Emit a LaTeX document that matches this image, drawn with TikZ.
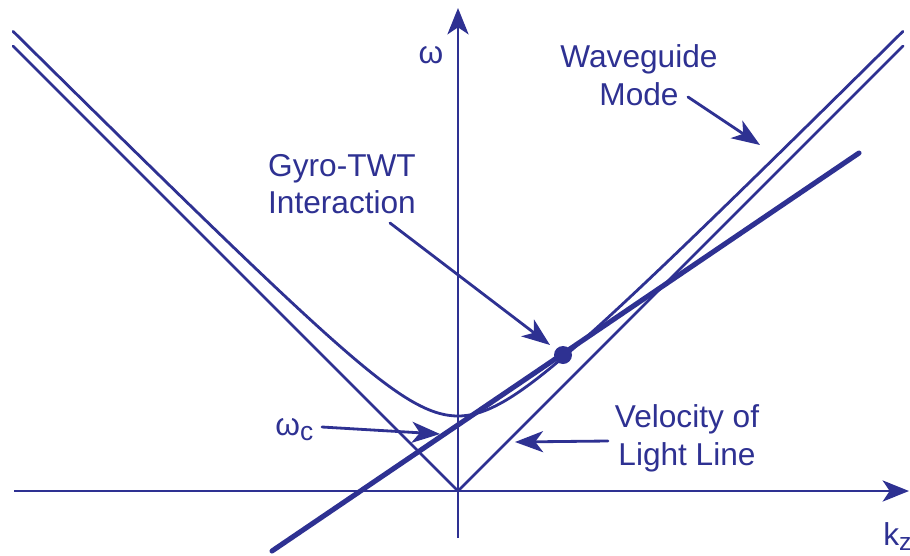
\documentclass[tikz,border=0pt]{standalone}
\usepackage{fontspec}
\setmainfont{Liberation Sans}
\usetikzlibrary{arrows.meta}
\definecolor{dispBlue}{HTML}{2E3192}

\begin{document}
\begin{tikzpicture}[x=0.02cm,y=-0.02cm,font=\fontsize{18}{21.5}\selectfont,
    curve/.style={dispBlue,line width=1.6pt,line cap=round},
    beam/.style={dispBlue,line width=2.9pt,line cap=round},
    axis/.style={dispBlue,line width=1.6pt,-{Stealth[length=15pt,width=12pt,inset=4pt]}},
    pointer/.style={dispBlue,line width=1.6pt,line cap=round,-{Stealth[length=16pt,width=12pt,inset=4.5pt]}},
    lbl/.style={text=dispBlue,align=center,inner sep=0pt}]
  \useasboundingbox (0,0) rectangle (910,555);
  \coordinate (O) at (458,491);
  \coordinate (xs) at (14,491);
  \coordinate (xe) at (909,491);
  \coordinate (ys) at (458,538);
  \coordinate (ye) at (458,8);
  \coordinate (lightL) at (13,46);
  \coordinate (lightR) at (903,46);
  \coordinate (beamA) at (272,551);
  \coordinate (beamB) at (859,153);

  \draw[axis] (xs) -- (xe);
  \draw[axis] (ys) -- (ye);
  \draw[curve] (lightL) -- (O) -- (lightR);
  \draw[curve] plot[domain=-4.45:4.45,samples=120,smooth]
    ({458+100*\x},{491-100*(0.1+sqrt(0.4225+\x*\x))});
  \draw[beam] (beamA) -- (beamB);
  \node[circle,fill=dispBlue,inner sep=0pt,minimum size=0.36cm] (gyro) at (563,355) {};

  \node[lbl] (wl) at (431,55) {ω};
  \node[lbl] (wgl) at (639,75) {Waveguide\\Mode};
  \node[lbl] (gyl) at (342,184) {Gyro-TWT\\Interaction};
  \node[lbl] (vll) at (687,438) {Velocity of\\Light Line};
  \node[lbl,anchor=base west] (wcl) at (275,435) {ω\raisebox{-3.4pt}{\fontsize{15}{15}\selectfont c}};
  \node[lbl,anchor=base west] (kzl) at (883,545) {k\raisebox{-3pt}{\fontsize{14}{14}\selectfont z}};

  \coordinate (wgs) at (688,97);
  \coordinate (wgt) at (760,145);
  \coordinate (gys) at (390,223);
  \coordinate (gyt) at (550,345);
  \coordinate (wcs) at (322,427);
  \coordinate (wct) at (440,434);
  \coordinate (vls) at (608,441);
  \coordinate (vlt) at (515,442);
  \foreach \a/\b in {wgs/wgt,gys/gyt,wcs/wct,vls/vlt}
    \draw[pointer] (\a) -- (\b);
\end{tikzpicture}
\end{document}
